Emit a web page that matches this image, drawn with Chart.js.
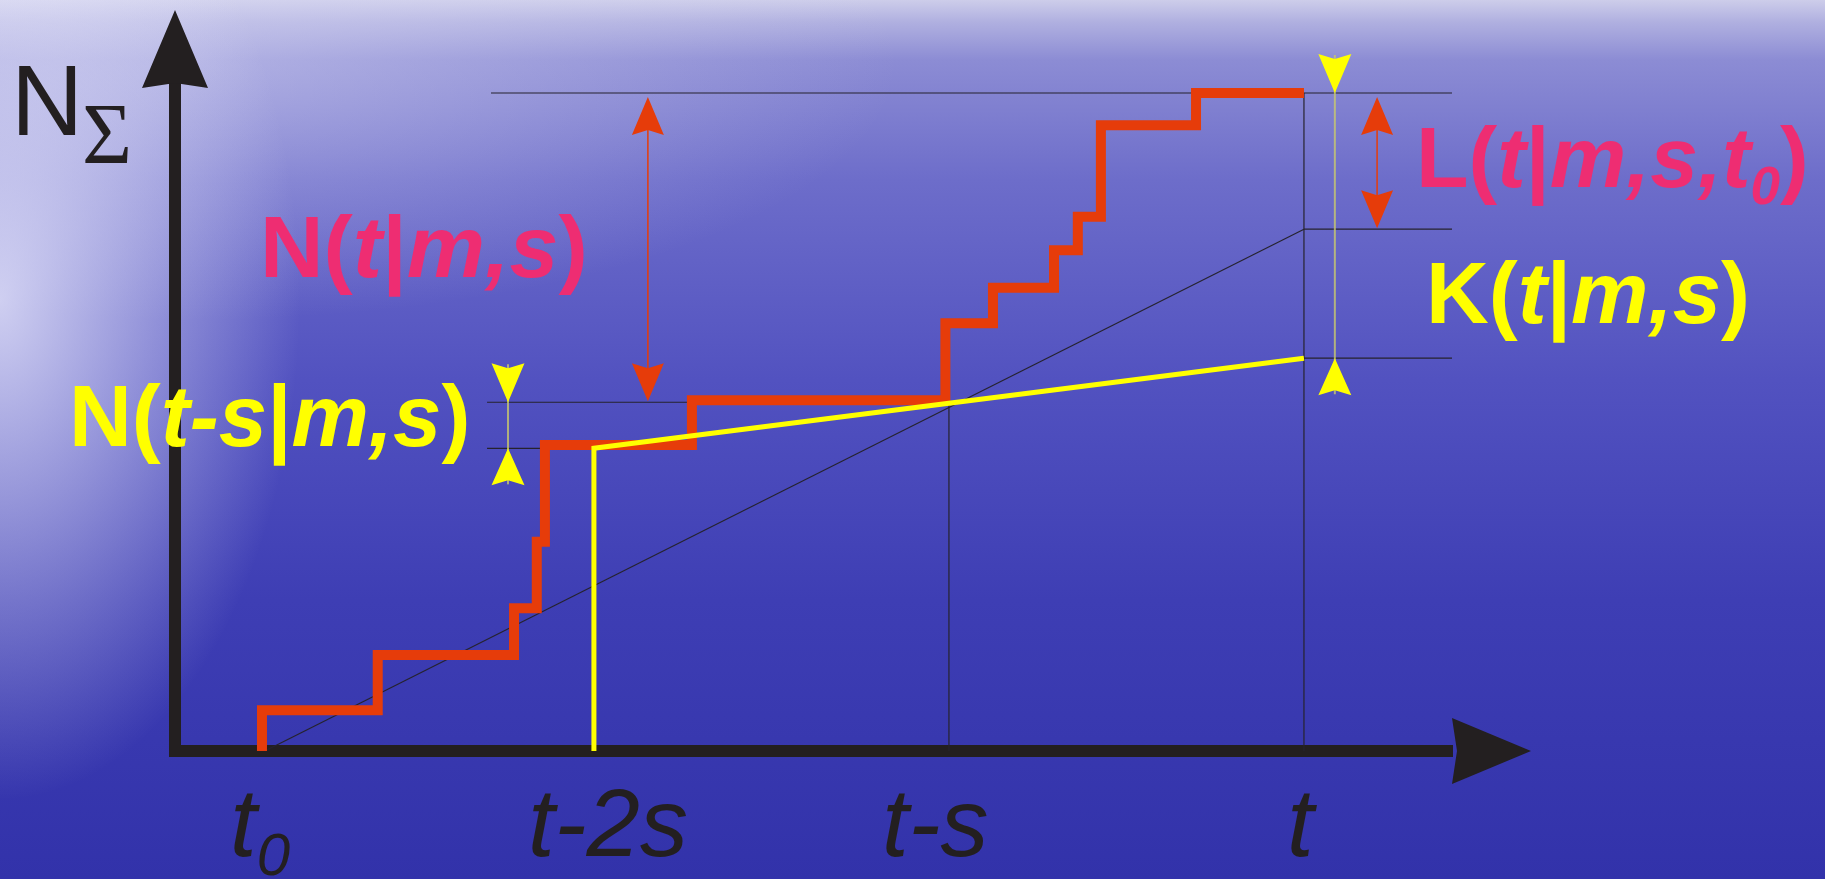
<!DOCTYPE html>
<html>
<head>
<meta charset="utf-8">
<script src="https://cdn.jsdelivr.net/npm/chart.js@4.4.1/dist/chart.umd.min.js"></script>
<style>
  html, body { margin: 0; padding: 0; overflow: hidden; background: #3434aa; }
  #wrap {
    width: 1825px; height: 879px; position: relative;
    background:
      radial-gradient(ellipse 300px 500px at 0px 300px, rgba(235,235,252,0.8), rgba(235,235,252,0) 100%),
      radial-gradient(ellipse 700px 260px at 200px 60px, rgba(220,220,245,0.45), rgba(220,220,245,0) 100%),
      linear-gradient(to bottom, #cdcdea 0px, #b0b0e0 22px, #8c8cd4 60px, #6d6dca 180px, #5252c0 380px, #3e3eb4 600px, #3232aa 879px);
  }
</style>
</head>
<body>
<div id="wrap"><canvas id="nChart" width="1825" height="879"></canvas></div>
<script>
// time axis (s = window length)
const tNow = 30;
const sWin = 10;
const t0 = 0.65;

// counting process N(t): jump times and level after each jump
const jumpTimes = [0.65, 3.91, 7.75, 8.39, 8.62, 12.76, 19.9, 21.24, 22.96, 23.63, 24.28, 26.96];
const jumpLevels = [6.2, 14.6, 21.7, 31.8, 46.5, 53.3, 65.0, 70.4, 76.1, 81.2, 95.1, 100];

const tickValues = [t0, tNow - 2 * sWin, tNow - sWin, tNow];
const tickLabels = [['t', '0'], ['t-2s', ''], ['t-s', ''], ['t', '']];

const nAtT = 100;      // N(t|m,s)
const nAtTs = 53.0;    // N(t-s|m,s)
const kStart = 46.0;   // K at t-2s
const kAtT = 59.7;     // K(t|m,s)
const diagAtT = 79.3;  // trend line from t0 at t

const redArrows = [{x: 11.52, hi: nAtT, lo: nAtTs}, {x: 32.06, hi: nAtT, lo: diagAtT}];
const yellowPinch = [{x: 30.87, hi: nAtT, lo: kAtT}, {x: 7.58, hi: nAtTs, lo: kStart}];

const stepPoints = [{x: t0, y: 0}];
jumpTimes.forEach((x, i) => stepPoints.push({x: x, y: jumpLevels[i]}));
stepPoints.push({x: tNow, y: jumpLevels[jumpLevels.length - 1]});

const thin = (data) => ({
    data: data, borderColor: '#26232e', borderWidth: 1.2, order: 3, clip: false
});

const RED = '#e63c0a';
const PINK = '#ee2d72';
const YEL = '#ffff00';
const INK = '#231f20';

function head(ctx, x, y, dir, w, h) {
    // dir 1: tip at y pointing down, -1: pointing up
    ctx.beginPath();
    ctx.moveTo(x, y);
    ctx.lineTo(x - w / 2, y - dir * h);
    ctx.lineTo(x, y - dir * (h - 5));
    ctx.lineTo(x + w / 2, y - dir * h);
    ctx.closePath();
    ctx.fill();
}

function rich(ctx, x, y, parts, size, color, weight) {
    let cx = x;
    ctx.fillStyle = color;
    ctx.textBaseline = 'alphabetic';
    ctx.textAlign = 'left';
    parts.forEach(function (p) {
        const sub = p[1] === 's';
        const fs = sub ? Math.round(size * 0.62) : size;
        ctx.font = (p[1] !== 'n' ? 'italic ' : '') + weight + ' ' + fs + 'px "Liberation Sans", Arial, sans-serif';
        ctx.fillText(p[0], cx, sub ? y + size * 0.2 : y);
        cx += ctx.measureText(p[0]).width;
    });
}

const decor = {
    id: 'decor',
    afterDatasetsDraw(chart) {
        const ctx = chart.ctx;
        const xs = chart.scales.x, ys = chart.scales.y, a = chart.chartArea;
        ctx.save();

        // axis arrow heads
        ctx.fillStyle = INK;
        head(ctx, a.left, a.top - 78, -1, 66, 78);
        ctx.beginPath();
        ctx.moveTo(a.right + 79, a.bottom);
        ctx.lineTo(a.right, a.bottom - 33);
        ctx.lineTo(a.right + 5, a.bottom);
        ctx.lineTo(a.right, a.bottom + 33);
        ctx.closePath();
        ctx.fill();

        // red double arrows
        ctx.fillStyle = RED;
        ctx.strokeStyle = RED;
        ctx.lineWidth = 1.5;
        redArrows.forEach(function (r) {
            const px = xs.getPixelForValue(r.x);
            const top = ys.getPixelForValue(r.hi) + 4;
            const bot = ys.getPixelForValue(r.lo) - 1;
            ctx.beginPath();
            ctx.moveTo(px, top + 20);
            ctx.lineTo(px, bot - 20);
            ctx.stroke();
            head(ctx, px, top, -1, 32, 38);
            head(ctx, px, bot, 1, 32, 38);
        });

        // yellow pinch arrows
        yellowPinch.forEach(function (r) {
            const px = xs.getPixelForValue(r.x);
            const top = ys.getPixelForValue(r.hi);
            const bot = ys.getPixelForValue(r.lo);
            ctx.strokeStyle = 'rgba(200,200,110,0.8)';
            ctx.lineWidth = 2;
            ctx.beginPath();
            ctx.moveTo(px, top - 38);
            ctx.lineTo(px, bot + 36);
            ctx.stroke();
            ctx.fillStyle = YEL;
            head(ctx, px, top, 1, 33, 39);
            head(ctx, px, bot, -1, 33, 37);
        });
        ctx.restore();
    },
    afterDraw(chart) {
        const ctx = chart.ctx;
        const xs = chart.scales.x;
        ctx.save();

        // tick labels under the time axis
        const tickDx = [-32, -66, -67, -17];
        tickValues.forEach(function (v, i) {
            const px = xs.getPixelForValue(v) + tickDx[i];
            const parts = [[tickLabels[i][0], 'i']];
            if (tickLabels[i][1]) parts.push([tickLabels[i][1], 's']);
            rich(ctx, px, 856, parts, 96, INK, 'normal');
        });

        // axis title N_Sigma
        ctx.fillStyle = INK;
        ctx.font = 'normal 100px "Liberation Sans", Arial, sans-serif';
        ctx.fillText('N', 11, 135);
        ctx.font = 'normal 86px "Liberation Serif", "DejaVu Serif", serif';
        ctx.fillText('\u03A3', 82, 163);

        // formula labels
        rich(ctx, 260, 277, [['N(', 'n'], ['t', 'i'], ['|', 'n'], ['m,s', 'i'], [')', 'n']], 88, PINK, 'bold');
        rich(ctx, 69, 446, [['N(', 'n'], ['t-s', 'i'], ['|', 'n'], ['m,s', 'i'], [')', 'n']], 87, YEL, 'bold');
        rich(ctx, 1416, 187, [['L(', 'n'], ['t', 'i'], ['|', 'n'], ['m,s,t', 'i'], ['0', 's'], [')', 'n']], 86, PINK, 'bold');
        rich(ctx, 1426, 323, [['K(', 'n'], ['t', 'i'], ['|', 'n'], ['m,s', 'i'], [')', 'n']], 87, YEL, 'bold');
        ctx.restore();
    }
};

new Chart(document.getElementById('nChart').getContext('2d'), {
    type: 'line',
    data: {
        datasets: [
            {
                data: [{x: tNow - 2 * sWin, y: 0}, {x: tNow - 2 * sWin, y: kStart}, {x: tNow, y: kAtT}],
                borderColor: YEL, borderWidth: 5, order: 0, clip: false
            },
            {
                data: stepPoints, stepped: 'before',
                borderColor: RED, borderWidth: 10, borderJoinStyle: 'miter', order: 1, clip: false
            },
            thin([{x: 0.73, y: 0}, {x: tNow, y: diagAtT}]),
            thin([{x: 7.1, y: nAtT}, {x: 34.17, y: nAtT}]),
            thin([{x: 6.99, y: nAtTs}, {x: tNow - sWin, y: nAtTs}, {x: tNow - sWin, y: 0}]),
            thin([{x: 6.99, y: kStart}, {x: 8.5, y: kStart}]),
            thin([{x: tNow, y: 0}, {x: tNow, y: nAtT}]),
            thin([{x: tNow, y: diagAtT}, {x: 34.17, y: diagAtT}]),
            thin([{x: tNow, y: kAtT}, {x: 34.17, y: kAtT}])
        ]
    },
    options: {
        responsive: false,
        animation: false,
        events: [],
        layout: { padding: { left: 175, right: 373, top: 88, bottom: 128 } },
        elements: { point: { radius: 0 }, line: { tension: 0 } },
        plugins: { legend: { display: false }, tooltip: { enabled: false } },
        scales: {
            x: {
                type: 'linear', min: -1.80, max: 34.17,
                grid: { display: false },
                ticks: { display: false },
                border: { display: true, color: INK, width: 12 },
                afterFit: function (s) { s.height = 0; }
            },
            y: {
                type: 'linear', min: 0, max: 100.76,
                grid: { display: false },
                ticks: { display: false },
                border: { display: true, color: INK, width: 12 },
                afterFit: function (s) { s.width = 0; }
            }
        }
    },
    plugins: [decor]
});
</script>
</body>
</html>
